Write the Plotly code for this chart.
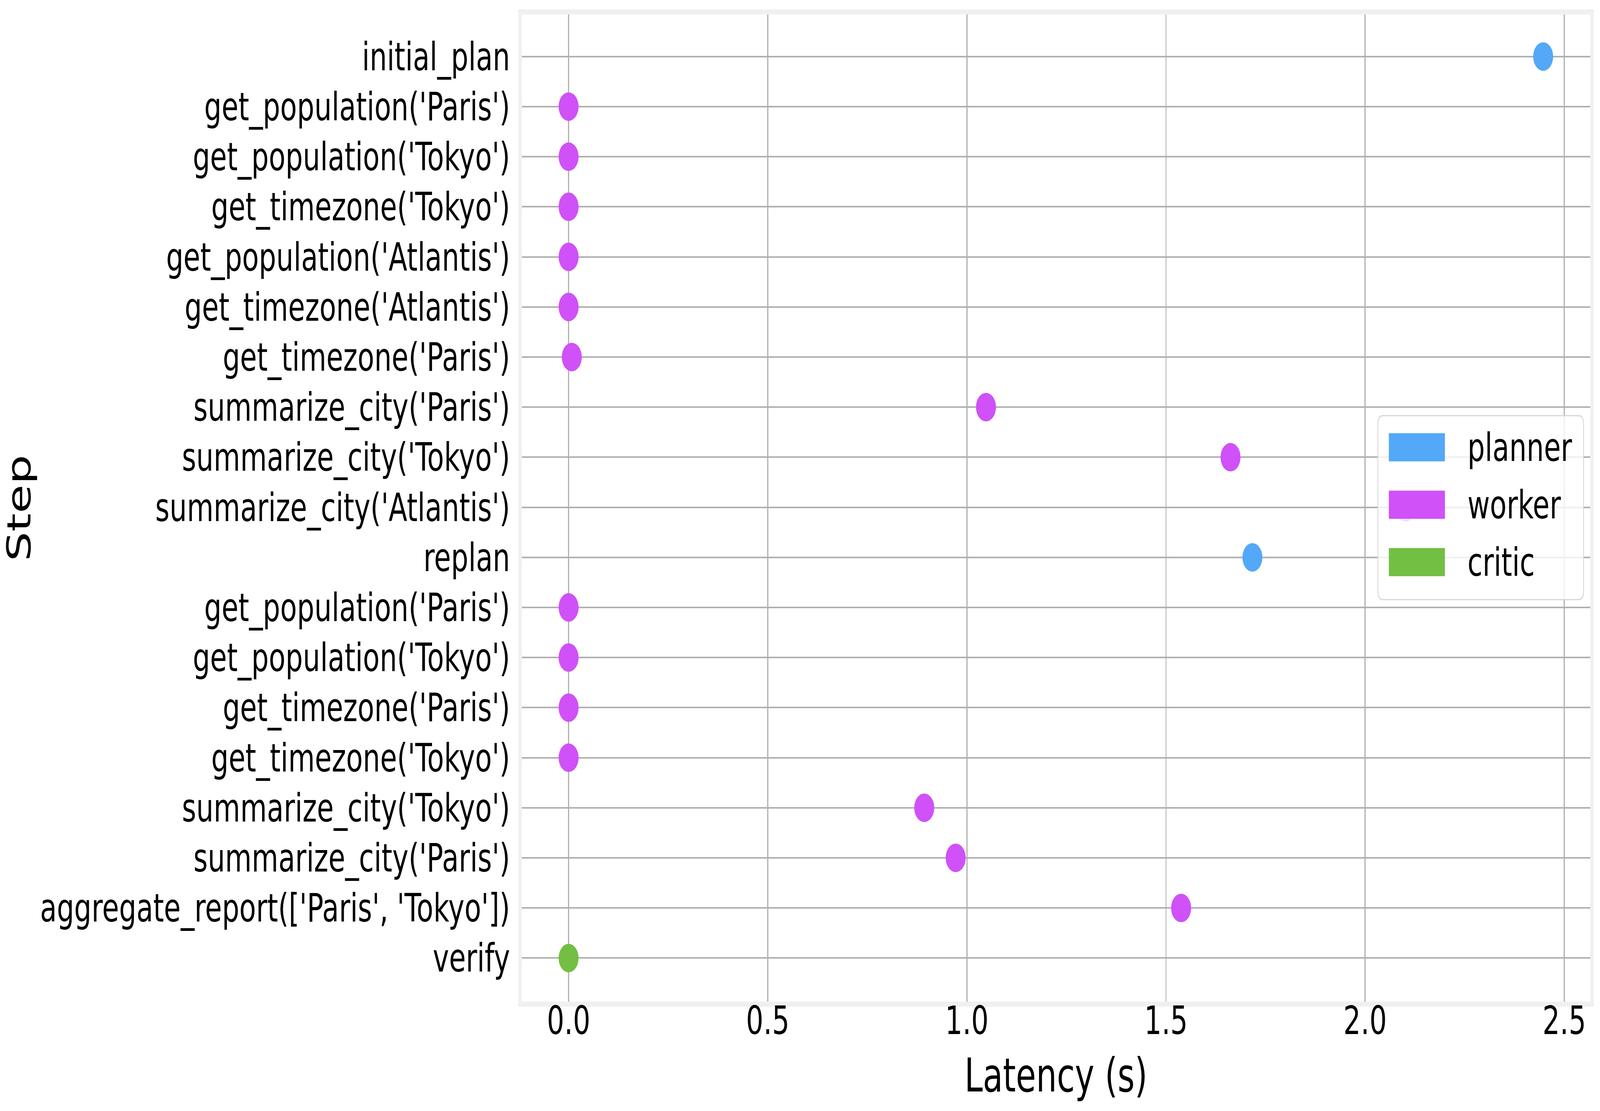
import plotly.graph_objects as go

# step names in execution order (top to bottom)
steps = [
    "initial_plan",
    "get_population('Paris')",
    "get_population('Tokyo')",
    "get_timezone('Tokyo')",
    "get_population('Atlantis')",
    "get_timezone('Atlantis')",
    "get_timezone('Paris')",
    "summarize_city('Paris')",
    "summarize_city('Tokyo')",
    "summarize_city('Atlantis')",
    "replan",
    "get_population('Paris')",
    "get_population('Tokyo')",
    "get_timezone('Paris')",
    "get_timezone('Tokyo')",
    "summarize_city('Tokyo')",
    "summarize_city('Paris')",
    "aggregate_report(['Paris', 'Tokyo'])",
    "verify",
]
roles = [
    "planner", "worker", "worker", "worker", "worker", "worker", "worker",
    "worker", "worker", "worker", "planner", "worker", "worker", "worker",
    "worker", "worker", "worker", "worker", "critic",
]
latency = [
    2.447, 0.0, 0.0, 0.0, 0.0, 0.0, 0.008, 1.048, 1.662, 2.102,
    1.717, 0.0, 0.0, 0.0, 0.0, 0.893, 0.972, 1.538, 0.0,
]
role_order = ["planner", "worker", "critic"]
role_colors = {"planner": "#53a8f8", "worker": "#cf51f7", "critic": "#72bf43"}
x_ticks = [0.0, 0.5, 1.0, 1.5, 2.0, 2.5]

W, H = 5844, 2844
L, R, T, B = 1902, 36, 37, 280
FONT = "DejaVu Sans"

fig = go.Figure()
for role in role_order:
    idx = [i for i, r in enumerate(roles) if r == role]
    fig.add_trace(go.Scatter(
        x=[latency[i] for i in idx],
        y=idx,
        mode="markers",
        name=role,
        marker=dict(size=73, color=role_colors[role], line=dict(width=0)),
        showlegend=False,
    ))

# legend drawn by hand so the patches match the reference size
pw, ph = W - L - R, H - T - B


def px_x(v):
    return (v - L) / pw


def px_y(v):
    return (H - B - v) / ph


bx0, bx1, by0, by1, rad = 5032, 5784, 1064, 1535, 20
rx, ry = rad / pw, rad / ph
x0, x1, y0, y1 = px_x(bx0), px_x(bx1), px_y(by1), px_y(by0)
box_path = (
    f"M{x0 + rx},{y0} L{x1 - rx},{y0} Q{x1},{y0} {x1},{y0 + ry} "
    f"L{x1},{y1 - ry} Q{x1},{y1} {x1 - rx},{y1} L{x0 + rx},{y1} "
    f"Q{x0},{y1} {x0},{y1 - ry} L{x0},{y0 + ry} Q{x0},{y0} {x0 + rx},{y0} Z"
)
shapes = [dict(type="path", xref="paper", yref="paper", path=box_path,
               fillcolor="rgba(255,255,255,0.8)",
               line=dict(color="#d6d6d6", width=3), layer="above")]
annotations = []
for k, role in enumerate(role_order):
    top = 1109 + k * 147
    shapes.append(dict(type="rect", xref="paper", yref="paper",
                       x0=px_x(5072), x1=px_x(5277),
                       y0=px_y(top + 72), y1=px_y(top),
                       fillcolor=role_colors[role], line=dict(width=0),
                       layer="above"))
    annotations.append(dict(xref="paper", yref="paper", x=px_x(5358),
                            y=px_y(top + 36), text=role, showarrow=False,
                            xanchor="left", yanchor="middle",
                            font=dict(size=100, color="black", family=FONT)))

fig.update_layout(
    width=W, height=H,
    margin=dict(l=L, r=R, t=T, b=B),
    paper_bgcolor="white", plot_bgcolor="white",
    font=dict(family=FONT, color="black", size=100),
    shapes=shapes, annotations=annotations,
)
fig.update_xaxes(
    range=[-0.1174, 2.565], tickvals=x_ticks, tickformat=".1f",
    showgrid=True, gridcolor="#b0b0b0", gridwidth=3.5, zeroline=False,
    showline=True, mirror=True, linecolor="#f0f0f0", linewidth=13,
    ticks="", ticklabelstandoff=-50,
    title=dict(text="Latency (s)", font=dict(size=120), standoff=46),
    tickfont=dict(size=100),
)
fig.update_yaxes(
    range=[18.87, -0.84], tickvals=list(range(len(steps))), ticktext=steps,
    showgrid=True, gridcolor="#b0b0b0", gridwidth=3.5, zeroline=False,
    showline=True, mirror=True, linecolor="#f0f0f0", linewidth=13,
    ticks="", ticklabelstandoff=10,
    title=dict(text="Step", font=dict(size=120), standoff=50),
    tickfont=dict(size=100),
)

# the browser may give a narrower window than the figure; fit it to the width
fit_js = """
var gd = document.getElementById('{plot_id}');
var s = Math.min(1, window.innerWidth / %d);
document.documentElement.style.overflow = 'hidden';
document.body.style.margin = '0';
document.body.style.overflow = 'hidden';
gd.style.transformOrigin = '0 0';
gd.style.transform = 'scale(' + s + ', 1)';
""" % W

fig.write_html("out.html", post_script=fit_js,
               config={"displayModeBar": False})
